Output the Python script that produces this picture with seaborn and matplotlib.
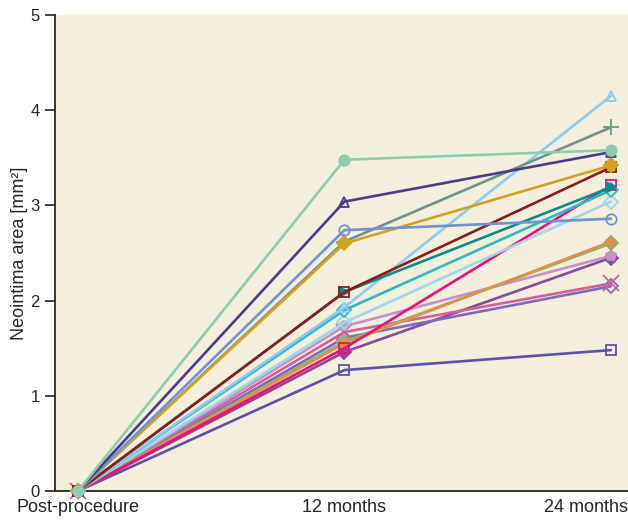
import matplotlib
matplotlib.use("Agg")
import matplotlib.pyplot as plt
import matplotlib.transforms as mtransforms
import seaborn as sns
import pandas as pd

# ---- data ----
timepoints = ["Post-procedure", "12 months", "24 months"]
series_ids = ["s01", "s02", "s03", "s04", "s05", "s06", "s07", "s08", "s09",
              "s10", "s11", "s12", "s13", "s14", "s15", "s16", "s17", "s18"]
post_values = [0.0] * 18
m12_values = [1.27, 1.46, 1.61, 1.67, 1.73, 1.57, 1.55, 1.50, 1.77,
              1.90, 1.93, 2.09, 2.09, 2.62, 2.60, 2.74, 3.04, 3.48]
m24_values = [1.48, 2.45, 2.15, 2.18, 2.47, 2.60, 2.62, 3.21, 3.04,
              3.16, 4.15, 3.19, 3.40, 3.82, 3.42, 2.86, 3.56, 3.58]
colors = ["#5b52a6", "#874b98", "#7d6bb8", "#d0609e", "#c890c8", "#7cba6c",
          "#e2904a", "#ec0f7c", "#9fd6ea", "#35b6c2", "#8ecbf1", "#0e8a8e",
          "#8b1c1c", "#6f9490", "#d4a21e", "#6f92d2", "#4a3b8e", "#8ccdb2"]
markers = ["s", "D", "D", "x", "p", "D", "*", "s", "D",
           "D", "^", ">", "s", "+", "D", "o", "^", "o"]
filled = [False, True, False, False, True, True, True, False, False,
          False, False, True, False, True, True, False, False, True]
y_ticks = [0, 1, 2, 3, 4, 5]

rows = []
for i, sid in enumerate(series_ids):
    for t, v in zip(range(3), [post_values[i], m12_values[i], m24_values[i]]):
        rows.append({"id": sid, "t": t, "value": v})
df = pd.DataFrame(rows)

sns.set_style("ticks")
plt.rcParams["font.family"] = ["Liberation Sans Narrow", "Liberation Sans", "DejaVu Sans"]

fig = plt.figure(figsize=(6.28, 5.20), dpi=100)
ax = fig.add_axes([55 / 628, 29 / 520, 573 / 628, 476 / 520])
ax.set_facecolor("#f3efdc")

for i, sid in enumerate(series_ids):
    sub = df[df["id"] == sid]
    c = colors[i]
    msize = 11 if markers[i] in ("+", "x") else 7.5
    sns.lineplot(data=sub, x="t", y="value", ax=ax, color=c, linewidth=1.9,
                 marker=markers[i], markersize=msize,
                 markerfacecolor=c if filled[i] else "none",
                 markeredgecolor=c, markeredgewidth=1.3, legend=False,
                 zorder=2 + i * 0.01, clip_on=False)

ax.set_xlim(-0.0863, 2.064)
ax.set_ylim(0, 5)
ax.set_xticks([0, 1, 2])
ax.set_xticklabels(timepoints, fontsize=13)
ax.set_yticks(y_ticks)
ax.set_yticklabels([str(v) for v in y_ticks], fontsize=12)
ax.tick_params(axis="x", length=0, pad=6)
ax.tick_params(axis="y", length=7, width=1.2, direction="out", pad=4)
ax.set_xlabel("")
ax.set_ylabel("Neointima area [mm²]", fontsize=13, labelpad=2)
for s in ["top", "right"]:
    ax.spines[s].set_visible(False)
ax.spines["left"].set_linewidth(1.3)
ax.spines["bottom"].set_linewidth(1.3)
ax.spines["bottom"].set_zorder(1)

# keep the last label inside the figure, as in the reference
last = ax.get_xticklabels()[-1]
last.set_horizontalalignment("right")
last.set_transform(last.get_transform() +
                   mtransforms.ScaledTranslation(17 / 100, 0, fig.dpi_scale_trans))

fig.savefig("out.png", dpi=100)
